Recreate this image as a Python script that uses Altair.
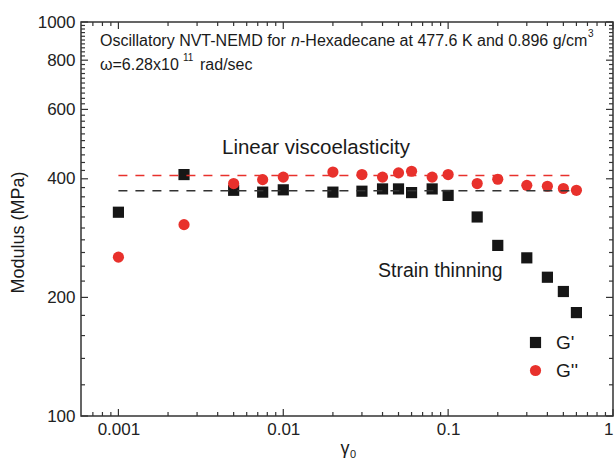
import altair as alt
import pandas as pd

# Strain amplitude sweep and dynamic moduli (MPa)
gamma0 = [0.001, 0.0025, 0.005, 0.0075, 0.01, 0.02, 0.03, 0.04, 0.05, 0.06,
          0.08, 0.1, 0.15, 0.2, 0.3, 0.4, 0.5, 0.6]
g_storage = [329, 410, 374, 370, 375, 370, 372, 377, 377, 369,
             377, 363, 320, 271, 252, 225, 207, 183]
g_loss = [253, 306, 389, 398, 404, 416, 410, 404, 414, 418,
          404, 410, 389, 399, 385, 383, 378, 374]
series_names = ["G'", "G''"]
series_colors = ["#161616", "#e8312c"]
series_shapes = ["square", "circle"]

# plateau levels of the linear regime (dashed guides)
plateau_levels = [373, 408]
plateau_span = [0.001, 0.6]

# axis ranges and tick values
x_range = [0.000593, 1]
y_range = [100, 1000]
x_major = [0.001, 0.01, 0.1, 1]
x_minor = [round(k * 10.0 ** e, 6) for e in (-4, -3, -2, -1) for k in range(2, 10)]
x_minor = [v for v in x_minor if 0.00065 < v < 1]
y_major = [100, 200, 400, 600, 800, 1000]
y_minor = [v for v in range(120, 1000, 20) if v not in y_major]

W, H = 532, 394
FONT = "Liberation Sans"
INK = "#1a1a1a"
FRAME = "#333"

xs = alt.Scale(type="log", domain=x_range, nice=False)
ys = alt.Scale(type="log", domain=y_range, nice=False)

points_df = pd.DataFrame({
    "gamma": gamma0 + gamma0,
    "modulus": g_storage + g_loss,
    "series": [series_names[0]] * len(gamma0) + [series_names[1]] * len(gamma0),
})
plateau_df = pd.DataFrame({
    "gamma": plateau_span + plateau_span,
    "modulus": [plateau_levels[0]] * 2 + [plateau_levels[1]] * 2,
    "series": [series_names[0]] * 2 + [series_names[1]] * 2,
})

legend = alt.Legend(
    orient="none", legendX=445, legendY=311, title=None,
    labelFont=FONT, labelFontSize=19, labelColor=INK, labelOffset=11,
    symbolSize=125, symbolStrokeWidth=0, rowPadding=8, padding=0,
)

points = alt.Chart(points_df).mark_point(filled=True, size=125, opacity=1, strokeWidth=0).encode(
    x=alt.X("gamma:Q", scale=xs, axis=alt.Axis(
        orient="bottom", values=x_major, format="~g", ticks=False, tickSize=0,
        domain=False, grid=False, labelFont=FONT, labelFontSize=17, labelColor="#222",
        labelPadding=5, labelFlush=True, labelOverlap=False, title=None)),
    y=alt.Y("modulus:Q", scale=ys, axis=alt.Axis(
        orient="left", values=y_major, format="d", ticks=False, tickSize=0,
        domain=False, grid=False, labelFont=FONT, labelFontSize=17, labelColor="#222",
        labelPadding=6, labelOverlap=False, labelFlush=False,
        title="Modulus (MPa)", titleFont=FONT, titleFontSize=18, titleFontWeight="normal",
        titleColor=INK, titleAngle=270, titleX=-63, titleY=210,
        titleAlign="center", titleBaseline="middle")),
    color=alt.Color("series:N", scale=alt.Scale(domain=series_names, range=series_colors), legend=legend),
    shape=alt.Shape("series:N", scale=alt.Scale(domain=series_names, range=series_shapes), legend=legend),
)


def plateau(i):
    return alt.Chart(plateau_df).transform_filter(
        alt.datum.series == series_names[i]
    ).mark_line(color=series_colors[i] if i else "#333", strokeDash=[9, 8], strokeWidth=1.5).encode(
        x=alt.X("gamma:Q", scale=xs, axis=None),
        y=alt.Y("modulus:Q", scale=ys, axis=None),
    )


def x_ticks(values, size):
    # short vertical segments pointing into the frame from the bottom and top edges
    data = pd.DataFrame({"gamma": values,
                         "lo": [y_range[0]] * len(values),
                         "hi": [y_range[1]] * len(values)})
    enc_x = dict(x=alt.X("gamma:Q", scale=xs, axis=None), x2="gamma:Q")
    return [
        alt.Chart(data).mark_rule(color=FRAME, strokeWidth=1.2, y2Offset=-size).encode(
            y=alt.Y("lo:Q", scale=ys, axis=None), y2="lo:Q", **enc_x),
        alt.Chart(data).mark_rule(color=FRAME, strokeWidth=1.2, y2Offset=size).encode(
            y=alt.Y("hi:Q", scale=ys, axis=None), y2="hi:Q", **enc_x),
    ]


def y_ticks(values, size):
    # short horizontal segments pointing into the frame from the left and right edges
    data = pd.DataFrame({"modulus": values,
                         "lo": [x_range[0]] * len(values),
                         "hi": [x_range[1]] * len(values)})
    enc_y = dict(y=alt.Y("modulus:Q", scale=ys, axis=None), y2="modulus:Q")
    return [
        alt.Chart(data).mark_rule(color=FRAME, strokeWidth=1.2, x2Offset=size).encode(
            x=alt.X("lo:Q", scale=xs, axis=None), x2="lo:Q", **enc_y),
        alt.Chart(data).mark_rule(color=FRAME, strokeWidth=1.2, x2Offset=-size).encode(
            x=alt.X("hi:Q", scale=xs, axis=None), x2="hi:Q", **enc_y),
    ]


ticks = x_ticks(x_major, 7) + x_ticks(x_minor, 4) + y_ticks(y_major, 7) + y_ticks(y_minor, 4)


def note(text, x, y, size, align="left", italic=False):
    return alt.Chart(alt.Data(values=[{}])).mark_text(
        align=align, baseline="middle", font=FONT, fontSize=size,
        fontStyle="italic" if italic else "normal", color=INK,
    ).encode(x=alt.value(x), y=alt.value(y), text=alt.value(text))


notes = [
    note("Oscillatory NVT-NEMD for", 19, 19, 16),
    note("n", 210, 19, 16, italic=True),
    note("-Hexadecane at 477.6 K and 0.896 g/cm", 219, 19, 16),
    note("3", 507, 12, 10),
    note("\u03c9=6.28x10", 19, 43, 16),
    note("11", 102, 36, 10),
    note("rad/sec", 119, 43, 16),
    note("Linear viscoelasticity", 235, 126, 20.5, align="center"),
    note("Strain thinning", 297, 249, 19.5),
    note("\u03b3", 264, 427, 18, align="center"),
    note("0", 269, 433, 11),
]

chart = alt.layer(
    points, plateau(0), plateau(1), *ticks, *notes
).resolve_axis(x="independent", y="independent").properties(
    width=W, height=H,
    autosize=alt.AutoSizeParams(type="none"),
    padding={"left": 81, "top": 22, "right": 2, "bottom": 47},
).configure_view(stroke=FRAME, strokeWidth=1.5)

chart.save("out.html", embed_options={"renderer": "svg", "actions": False})
